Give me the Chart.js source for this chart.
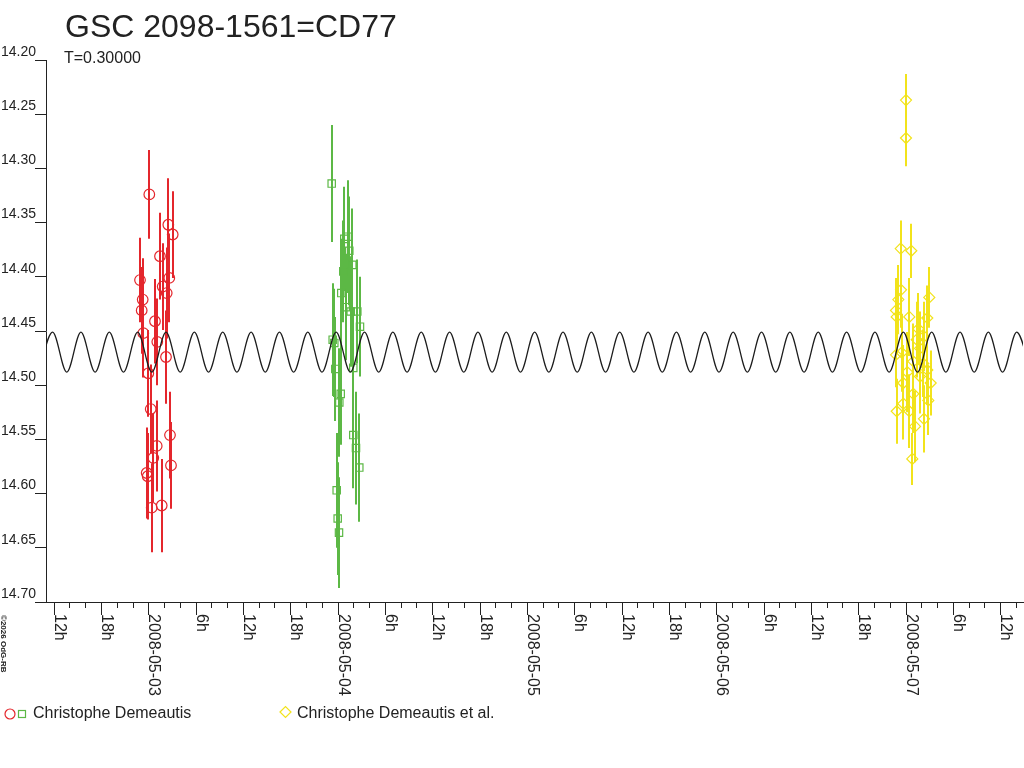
<!DOCTYPE html>
<html>
<head>
<meta charset="utf-8">
<title>GSC 2098-1561=CD77</title>
<script src="https://cdn.jsdelivr.net/npm/chart.js@4.4.1/dist/chart.umd.min.js"></script>
<style>
  html, body { margin: 0; padding: 0; background: #fff; }
  #wrap { width: 1024px; height: 768px; }
</style>
</head>
<body>
<div id="wrap"><canvas id="lc" width="1024" height="768"></canvas></div>
<script>
// x = days since 2008-05-03 00:00 UT, y = magnitude, err = half error bar (mag)
const redTimes = [0.0053, 0.1057, 0.1289, 0.0618, -0.0438, 0.1109, 0.0761, -0.0296, 0.0972, -0.0349, 0.0354, -0.0264,
                  0.0475, 0.0935, 0.0000, 0.0127, 0.1146, 0.0444, 0.0264, 0.1199, -0.0085, -0.0032, 0.0180, 0.0708];
const redMags  = [14.324, 14.352, 14.361, 14.381, 14.403, 14.401, 14.409, 14.421, 14.415, 14.431, 14.441, 14.452,
                  14.460, 14.474, 14.489, 14.522, 14.546, 14.556, 14.567, 14.574, 14.581, 14.584, 14.613, 14.611];
const redErrs  = [0.041, 0.043, 0.040, 0.040, 0.039, 0.041, 0.040, 0.038, 0.042, 0.040, 0.039, 0.041,
                  0.040, 0.043, 0.040, 0.041, 0.040, 0.042, 0.041, 0.040, 0.042, 0.040, 0.041, 0.043];

const greenTimes = [0.9688, 1.0354, 1.0534, 1.0618, 1.0777, 1.0301, 1.0195, 1.0428, 1.0692, 1.1041, 1.1183, 0.9741,
                    0.9826, 0.9879, 1.0829, 1.0164, 1.0090, 1.0829, 1.0972, 1.1146, 0.9952, 1.0005, 1.0074];
const greenMags  = [14.314, 14.365, 14.363, 14.376, 14.389, 14.395, 14.415, 14.428, 14.432, 14.432, 14.446, 14.458,
                    14.461, 14.485, 14.484, 14.508, 14.516, 14.546, 14.558, 14.576, 14.597, 14.623, 14.636];
const greenErrs  = [0.054, 0.048, 0.052, 0.050, 0.052, 0.047, 0.050, 0.049, 0.051, 0.048, 0.046, 0.052,
                    0.050, 0.048, 0.049, 0.047, 0.050, 0.049, 0.052, 0.050, 0.053, 0.052, 0.051];

const yellowTimes = [4.0026, 4.0026, 3.9746, 4.0306, 3.9762, 3.9620, 4.1257, 3.9498, 3.9535, 4.0201, 4.1152, 4.0676,
                     4.0592, 4.0977, 3.9799, 3.9498, 4.0766, 4.0412, 4.0940, 4.0095, 4.1152, 4.0766, 3.9884, 4.1331,
                     4.0412, 4.1204, 3.9884, 3.9535, 4.0201, 4.0977, 4.0502, 4.0359];
const yellowMags  = [14.237, 14.272, 14.374, 14.376, 14.412, 14.421, 14.419, 14.431, 14.437, 14.437, 14.438, 14.448,
                     14.458, 14.455, 14.470, 14.472, 14.466, 14.478, 14.480, 14.488, 14.486, 14.492, 14.498, 14.498,
                     14.508, 14.514, 14.517, 14.524, 14.524, 14.531, 14.538, 14.568];
const yellowErrs  = [0.024, 0.026, 0.026, 0.025, 0.035, 0.032, 0.028, 0.030, 0.034, 0.036, 0.030, 0.033,
                     0.035, 0.032, 0.036, 0.030, 0.034, 0.035, 0.031, 0.037, 0.032, 0.034, 0.035, 0.030,
                     0.036, 0.032, 0.033, 0.030, 0.034, 0.031, 0.033, 0.024];

// model curve: times of maxima (bright) and minima (faint)
const modelBright = 14.451;
const modelFaint = 14.488;
const modelPeakTimes = [-0.5056, -0.3558, -0.2060, -0.0562, 0.0936, 0.2434, 0.3932, 0.5430, 0.6928, 0.8426, 0.9924, 1.1422,
                        1.2920, 1.4418, 1.5916, 1.7414, 1.8912, 2.0410, 2.1908, 2.3406, 2.4904, 2.6402, 2.7900, 2.9398,
                        3.0896, 3.2394, 3.3892, 3.5390, 3.6888, 3.8386, 3.9884, 4.1382, 4.2880, 4.4378, 4.5876];
const modelTroughTimes = [-0.5805, -0.4307, -0.2809, -0.1311, 0.0187, 0.1685, 0.3183, 0.4681, 0.6179, 0.7677, 0.9175, 1.0673,
                          1.2171, 1.3669, 1.5167, 1.6665, 1.8163, 1.9661, 2.1159, 2.2657, 2.4155, 2.5653, 2.7151, 2.8649,
                          3.0147, 3.1645, 3.3143, 3.4641, 3.6139, 3.7637, 3.9135, 4.0633, 4.2131, 4.3629, 4.5127, 4.6625];

// axes
const xMin = -0.5404, xMax = 4.6207;
const yTickValues = [14.20, 14.25, 14.30, 14.35, 14.40, 14.45, 14.50, 14.55, 14.60, 14.65, 14.70];
const dateLabels = ['2008-05-03', '2008-05-04', '2008-05-05', '2008-05-06', '2008-05-07'];
const hourLabels = ['6h', '12h', '18h'];
const firstTickHour = -12, lastTickHour = 110, tickStepHours = 2;

const FONT = '"Liberation Sans", Arial, sans-serif';
const TEXT = '#222';
const AXIS = '#222';
const RED = '#e4262c';
const GREEN = '#5cb845';
const YELLOW = '#f2e31b';

function toPoints(xs, ys) {
  return xs.map((x, i) => ({ x: x, y: ys[i] }));
}

const modelPoints = modelPeakTimes.map(t => ({ x: t, y: modelBright }))
  .concat(modelTroughTimes.map(t => ({ x: t, y: modelFaint })))
  .sort((a, b) => a.x - b.x);

// vertical error bars under the markers
const errorBarPlugin = {
  id: 'errorBars',
  beforeDatasetsDraw(chart) {
    const { ctx, chartArea, scales: { x, y } } = chart;
    ctx.save();
    ctx.beginPath();
    ctx.rect(chartArea.left, chartArea.top, chartArea.right - chartArea.left, chartArea.bottom - chartArea.top);
    ctx.clip();
    chart.data.datasets.forEach(ds => {
      if (!ds.errors) return;
      ctx.strokeStyle = ds.borderColor;
      ctx.lineWidth = 2;
      ds.data.forEach((p, i) => {
        const px = Math.round(x.getPixelForValue(p.x));
        ctx.beginPath();
        ctx.moveTo(px, y.getPixelForValue(p.y - ds.errors[i]));
        ctx.lineTo(px, y.getPixelForValue(p.y + ds.errors[i]));
        ctx.stroke();
      });
    });
    ctx.restore();
  }
};

// time axis: tick marks every 2h, rotated labels every 6h
const timeAxisPlugin = {
  id: 'timeAxis',
  afterDraw(chart) {
    const { ctx, scales: { x } } = chart;
    const base = chart.chartArea.bottom;
    ctx.save();
    ctx.strokeStyle = AXIS;
    ctx.lineWidth = 1;
    ctx.fillStyle = TEXT;
    ctx.font = '16px ' + FONT;
    x.ticks.forEach(t => {
      const hour = Math.round(t.value * 24);
      const hod = ((hour % 24) + 24) % 24;
      const major = hod % 6 === 0;
      const px = Math.round(x.getPixelForValue(t.value)) + 0.5;
      ctx.beginPath();
      ctx.moveTo(px, base);
      ctx.lineTo(px, base + (major ? 13 : 6));
      ctx.stroke();
      if (!major) return;
      const label = hod === 0 ? dateLabels[Math.floor(hour / 24)] : hourLabels[hod / 6 - 1];
      ctx.save();
      ctx.translate(px + 0.5, base + 12);
      ctx.rotate(Math.PI / 2);
      ctx.textAlign = 'left';
      ctx.textBaseline = 'alphabetic';
      ctx.fillText(label, 0, 0);
      ctx.restore();
    });
    ctx.restore();
  }
};

// title, period note, legend, credit
const textPlugin = {
  id: 'texts',
  afterDraw(chart) {
    const ctx = chart.ctx;
    ctx.save();
    ctx.fillStyle = TEXT;
    ctx.textAlign = 'left';
    ctx.textBaseline = 'alphabetic';
    ctx.font = '32px ' + FONT;
    ctx.fillText('GSC 2098-1561=CD77', 65, 37);
    ctx.font = '16px ' + FONT;
    ctx.fillText('T=0.30000', 64, 63);

    // legend
    ctx.lineWidth = 1.2;
    ctx.strokeStyle = RED;
    ctx.beginPath();
    ctx.arc(10, 714, 5, 0, Math.PI * 2);
    ctx.stroke();
    ctx.strokeStyle = GREEN;
    ctx.strokeRect(18.5, 710.5, 7, 7);
    ctx.strokeStyle = YELLOW;
    ctx.beginPath();
    ctx.moveTo(280, 712); ctx.lineTo(285.5, 706.5); ctx.lineTo(291, 712); ctx.lineTo(285.5, 717.5);
    ctx.closePath();
    ctx.stroke();
    ctx.fillText('Christophe Demeautis', 33, 718);
    ctx.fillText('Christophe Demeautis et al.', 297, 718);

    // credit
    ctx.font = 'bold 8px ' + FONT;
    ctx.translate(1, 615);
    ctx.rotate(Math.PI / 2);
    ctx.fillText('\u00a92026 OdG-RB', 0, 0);
    ctx.restore();
  }
};

const xTickHours = [];
for (let h = firstTickHour; h <= lastTickHour; h += tickStepHours) xTickHours.push(h);

const ctx = document.getElementById('lc').getContext('2d');
const chart = new Chart(ctx, {
  type: 'scatter',
  data: {
    datasets: [
      {
        label: 'model',
        data: modelPoints,
        showLine: true,
        borderColor: '#1c1c1c',
        borderWidth: 1.3,
        pointRadius: 0,
        cubicInterpolationMode: 'monotone',
        fill: false
      },
      {
        label: 'Christophe Demeautis',
        data: toPoints(redTimes, redMags),
        errors: redErrs,
        pointStyle: 'circle',
        pointRadius: 5.3,
        pointBorderWidth: 1.2,
        borderColor: RED,
        backgroundColor: 'rgba(0,0,0,0)'
      },
      {
        label: 'Christophe Demeautis',
        data: toPoints(greenTimes, greenMags),
        errors: greenErrs,
        pointStyle: 'rect',
        pointRadius: 5.2,
        pointBorderWidth: 1.2,
        borderColor: GREEN,
        backgroundColor: 'rgba(0,0,0,0)'
      },
      {
        label: 'Christophe Demeautis et al.',
        data: toPoints(yellowTimes, yellowMags),
        errors: yellowErrs,
        pointStyle: 'rectRot',
        pointRadius: 5.5,
        pointBorderWidth: 1.2,
        borderColor: YELLOW,
        backgroundColor: 'rgba(0,0,0,0)'
      }
    ]
  },
  options: {
    responsive: false,
    animation: false,
    devicePixelRatio: 1,
    layout: { autoPadding: false, padding: { top: 60, left: 1, right: 1, bottom: 0 } },
    plugins: {
      legend: { display: false },
      tooltip: { enabled: false },
      title: { display: false }
    },
    scales: {
      x: {
        type: 'linear',
        min: xMin,
        max: xMax,
        afterBuildTicks: s => { s.ticks = xTickHours.map(h => ({ value: h / 24 })); },
        afterFit: s => { s.height = 166; },
        ticks: { display: false },
        grid: { display: false },
        border: { display: true, color: AXIS, width: 1 }
      },
      y: {
        type: 'linear',
        reverse: true,
        min: 14.2,
        max: 14.7,
        afterBuildTicks: s => { s.ticks = yTickValues.map(v => ({ value: v })); },
        afterFit: s => { s.width = 45; },
        ticks: {
          callback: v => Number(v).toFixed(2),
          crossAlign: 'far',
          padding: 0,
          labelOffset: -8,
          color: TEXT,
          font: { family: FONT, size: 14 }
        },
        grid: { drawOnChartArea: false, drawTicks: true, tickLength: 11, color: AXIS },
        border: { display: true, color: AXIS, width: 1 }
      }
    }
  },
  plugins: [errorBarPlugin, timeAxisPlugin, textPlugin]
});
</script>
</body>
</html>
